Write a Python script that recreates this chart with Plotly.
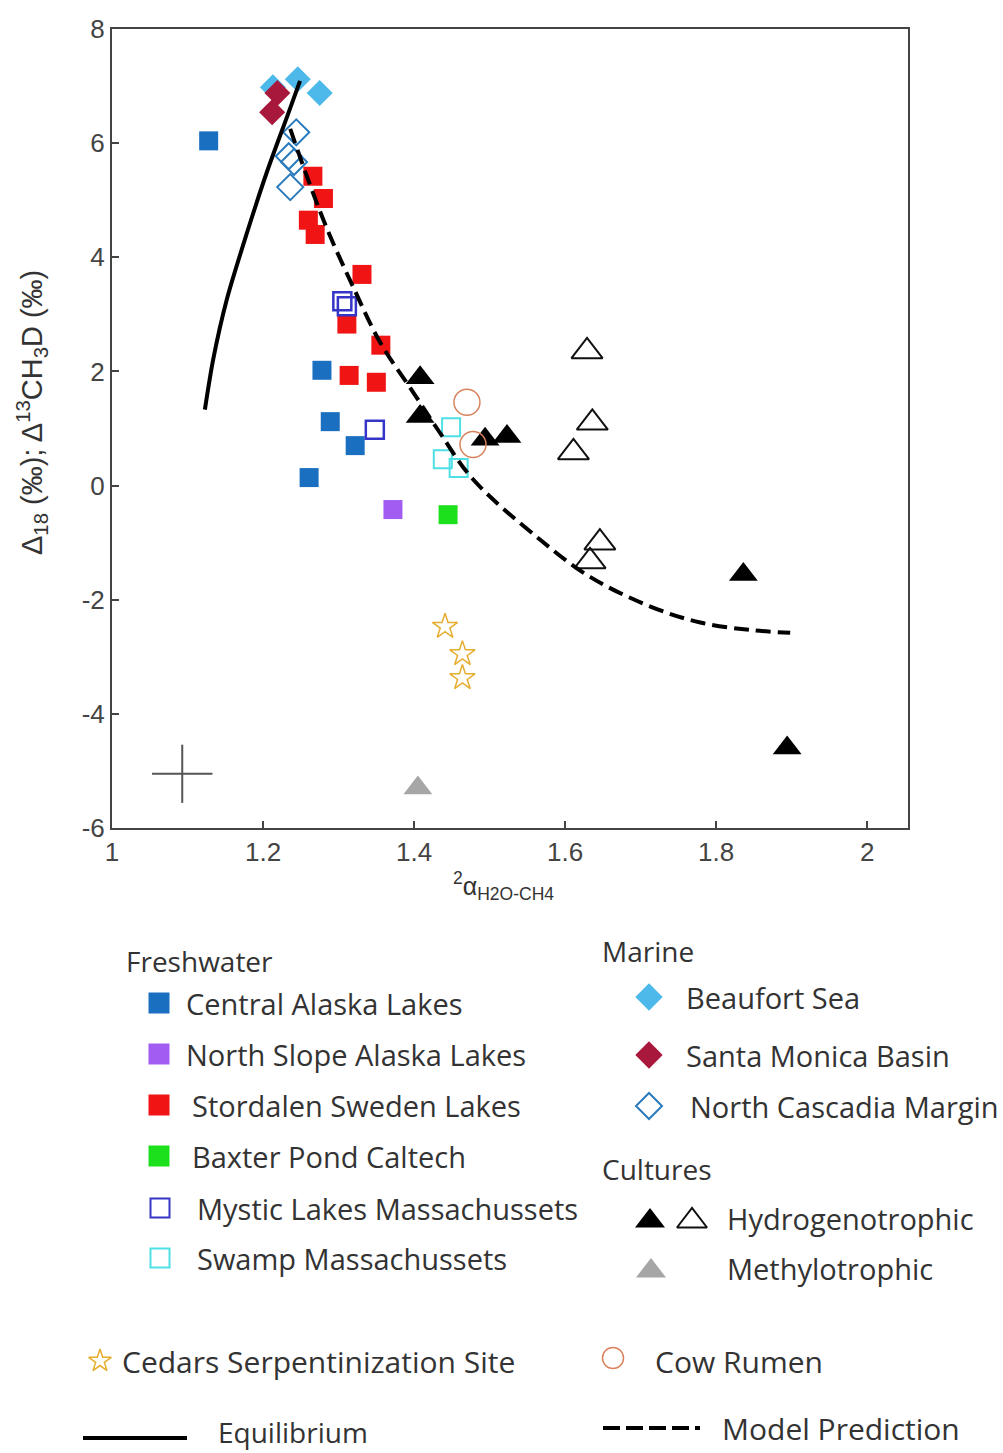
import plotly.graph_objects as go

# ---------------------------------------------------------------
# Sample groups: 2-alpha (H2O-CH4) vs clumped-isotope anomaly
# ---------------------------------------------------------------
central_alaska_x = [1.128, 1.278, 1.289, 1.322, 1.261]
central_alaska_y = [6.04, 2.02, 1.12, 0.70, 0.14]

north_slope_x = [1.372]
north_slope_y = [-0.42]

stordalen_x = [1.266, 1.280, 1.260, 1.269, 1.331, 1.311, 1.356, 1.314, 1.350]
stordalen_y = [5.42, 5.03, 4.65, 4.40, 3.70, 2.83, 2.46, 1.93, 1.81]

baxter_x = [1.445]
baxter_y = [-0.51]

mystic_x = [1.305, 1.311, 1.348]
mystic_y = [3.23, 3.14, 0.98]

swamp_x = [1.449, 1.438, 1.459]
swamp_y = [1.02, 0.46, 0.31]

beaufort_x = [1.213, 1.246, 1.275]
beaufort_y = [6.98, 7.12, 6.88]

santa_monica_x = [1.219, 1.212]
santa_monica_y = [6.88, 6.54]

cascadia_x = [1.244, 1.234, 1.241, 1.236]
cascadia_y = [6.19, 5.77, 5.67, 5.23]

hydro_filled_x = [1.408, 1.408, 1.494, 1.523, 1.836, 1.894]
hydro_filled_y = [1.89, 1.21, 0.81, 0.86, -1.56, -4.60]

hydro_open_x = [1.629, 1.636, 1.611, 1.646, 1.633]
hydro_open_y = [2.35, 1.10, 0.58, -1.00, -1.33]

methylo_x = [1.405]
methylo_y = [-5.30]

cedars_x = [1.441, 1.464, 1.464]
cedars_y = [-2.47, -2.95, -3.37]

cow_x = [1.470, 1.478]
cow_y = [1.46, 0.72]

# typical analytical uncertainty
err_x, err_y = [1.093], [-5.05]
err_dx, err_dy = 0.04, 0.51

# curves
equil_x = [1.123, 1.134, 1.152, 1.179, 1.205, 1.232, 1.249]
equil_y = [1.33, 2.21, 3.26, 4.44, 5.49, 6.47, 7.09]

model_x = [1.236, 1.258, 1.285, 1.319, 1.355, 1.399, 1.434, 1.478, 1.567,
           1.633, 1.713, 1.779, 1.845, 1.898]
model_y = [6.25, 5.42, 4.49, 3.49, 2.51, 1.63, 0.93, 0.11, -0.95,
           -1.60, -2.12, -2.40, -2.53, -2.58]

x_ticks = [1, 1.2, 1.4, 1.6, 1.8, 2]
x_tick_text = ["1", "1.2", "1.4", "1.6", "1.8", "2"]
y_ticks = [-6, -4, -2, 0, 2, 4, 6, 8]
y_tick_text = ["-6", "-4", "-2", "0", "2", "4", "6", "8"]

# ---------------------------------------------------------------
# Styling
# ---------------------------------------------------------------
C_CENTRAL = "#1b6fc0"
C_NSLOPE = "#a35cf2"
C_STORD = "#f01414"
C_BAXTER = "#1ce01c"
C_MYSTIC = "#3535c8"
C_SWAMP = "#4fe0e6"
C_BEAUF = "#4db8ea"
C_SMB = "#a8183c"
C_CASC = "#2a7bbd"
C_METHYL = "#a6a6a6"
C_CEDARS = "#e5ad2e"
C_COW = "#d9835e"
AXIS = "#444444"
TEXT = "#333333"

W, H = 1003, 1453
PL, PR, PT, PB = 112, 908, 29, 828


def fx(p):
    return p / W


def fy(p):
    return (H - p) / H


fig = go.Figure()


def pts(x, y, symbol, size, color, lw=0, xa="x", ya="y"):
    fig.add_trace(go.Scatter(
        x=x, y=y, mode="markers", xaxis=xa, yaxis=ya, showlegend=False,
        hoverinfo="skip",
        marker=dict(symbol=symbol, size=size, color=color,
                    line=dict(color=color, width=lw)),
    ))


# error cross
fig.add_trace(go.Scatter(
    x=err_x, y=err_y, mode="markers", showlegend=False, hoverinfo="skip",
    marker=dict(size=1, color="rgba(0,0,0,0)"),
    error_x=dict(type="constant", value=err_dx, width=0, thickness=2, color="#555555"),
    error_y=dict(type="constant", value=err_dy, width=0, thickness=2, color="#555555"),
))

pts(central_alaska_x, central_alaska_y, "square", 19, C_CENTRAL)
pts(north_slope_x, north_slope_y, "square", 19, C_NSLOPE)
pts(stordalen_x, stordalen_y, "square", 19, C_STORD)
pts(baxter_x, baxter_y, "square", 19, C_BAXTER)
pts(mystic_x, mystic_y, "square-open", 18, C_MYSTIC, 2.5)
pts(swamp_x, swamp_y, "square-open", 18, C_SWAMP, 2)
pts(beaufort_x, beaufort_y, "diamond", 20, C_BEAUF)
pts(santa_monica_x, santa_monica_y, "diamond", 20, C_SMB)
pts(cascadia_x, cascadia_y, "diamond-open", 20, C_CASC, 2)
pts(hydro_open_x, hydro_open_y, "triangle-up-open", 27, "#111111", 2)
pts(hydro_filled_x, hydro_filled_y, "triangle-up", 25, "#000000")
pts(methylo_x, methylo_y, "triangle-up", 25, C_METHYL)
pts(cedars_x, cedars_y, "star-open", 19, C_CEDARS, 1.5)
pts(cow_x, cow_y, "circle-open", 26, C_COW, 1.5)

fig.add_trace(go.Scatter(
    x=equil_x, y=equil_y, mode="lines", showlegend=False, hoverinfo="skip",
    line=dict(color="#000000", width=4, shape="spline", smoothing=0.8),
))
fig.add_trace(go.Scatter(
    x=model_x, y=model_y, mode="lines", showlegend=False, hoverinfo="skip",
    line=dict(color="#000000", width=4, shape="spline", dash="15px,7px"),
))

# ---------------------------------------------------------------
# Key below the axes (drawn on a pixel-scaled helper axis)
# ---------------------------------------------------------------
KEY_TOP = 900
KEY_FONT = "Open Sans"
headings = [("Freshwater", 124, 961), ("Marine", 600, 951), ("Cultures", 600, 1169)]

key_labels = ["Central Alaska Lakes", "North Slope Alaska Lakes", "Stordalen Sweden Lakes",
              "Baxter Pond Caltech", "Mystic Lakes Massachussets", "Swamp Massachussets",
              "Beaufort Sea", "Santa Monica Basin", "North Cascadia Margin",
              "Hydrogenotrophic", "Methylotrophic",
              "Cedars Serpentinization Site", "Cow Rumen",
              "Equilibrium", "Model Prediction"]

# (marker x, marker y, symbol, size, colour, line width, text x, text y, font size)
key_layout = [
    (159, 1003, "square", 21, C_CENTRAL, 0, 184, 1003, 29),
    (159, 1054, "square", 21, C_NSLOPE, 0, 184, 1054, 29),
    (159, 1105, "square", 21, C_STORD, 0, 190, 1105, 29),
    (159, 1156, "square", 21, C_BAXTER, 0, 190, 1156, 29),
    (160, 1208, "square-open", 19, C_MYSTIC, 2, 195, 1208, 29),
    (160, 1258, "square-open", 19, C_SWAMP, 2, 195, 1258, 29),
    (649, 997, "diamond", 21, C_BEAUF, 0, 684, 997, 29),
    (649, 1055, "diamond", 21, C_SMB, 0, 684, 1055, 29),
    (649, 1106, "diamond-open", 20, C_CASC, 2, 688, 1106, 29),
    (650, 1221, "triangle-up", 26, "#000000", 0, 725, 1218, 29),
    (651, 1271, "triangle-up", 26, C_METHYL, 0, 725, 1268, 29),
    (100, 1361, "star-open", 17, C_CEDARS, 1.5, 120, 1361, 30),
    (613, 1358, "circle-open", 21, C_COW, 1.5, 653, 1361, 30),
]

for lab, (mx, my, sym, sz, col, lw, tx, ty, fs) in zip(key_labels, key_layout):
    pts([mx], [my], sym, sz, col, lw, xa="x2", ya="y2")
    fig.add_annotation(x=tx, y=ty, xref="x2", yref="y2", text=lab, showarrow=False,
                       xanchor="left", yanchor="middle",
                       font=dict(family=KEY_FONT, size=fs, color=TEXT))

# second symbol for hydrogenotrophic (open triangle)
pts([692], [1221], "triangle-up-open", 26, "#111111", 2, xa="x2", ya="y2")

# line samples
fig.add_trace(go.Scatter(x=[83, 187], y=[1438, 1438], mode="lines", xaxis="x2", yaxis="y2",
                         showlegend=False, hoverinfo="skip",
                         line=dict(color="#000000", width=4)))
fig.add_annotation(x=216, y=1432, xref="x2", yref="y2", text=key_labels[13], showarrow=False,
                   xanchor="left", yanchor="middle",
                   font=dict(family=KEY_FONT, size=28, color=TEXT))
fig.add_trace(go.Scatter(x=[603, 700], y=[1428, 1428], mode="lines", xaxis="x2", yaxis="y2",
                         showlegend=False, hoverinfo="skip",
                         line=dict(color="#000000", width=4, dash="17px,6px")))
fig.add_annotation(x=720, y=1428, xref="x2", yref="y2", text=key_labels[14], showarrow=False,
                   xanchor="left", yanchor="middle",
                   font=dict(family=KEY_FONT, size=30, color=TEXT))

for txt, hx, hy in headings:
    fig.add_annotation(x=hx, y=hy, xref="x2", yref="y2", text=txt, showarrow=False,
                       xanchor="left", yanchor="middle",
                       font=dict(family=KEY_FONT, size=28, color=TEXT))

# axis titles
fig.add_annotation(x=fx(32), y=fy(413), xref="paper", yref="paper", textangle=-90,
                   text="Δ<sub>18</sub> (‰); Δ<sup>13</sup>CH<sub>3</sub>D (‰)",
                   showarrow=False, xanchor="center", yanchor="middle",
                   font=dict(family="Liberation Sans", size=29, color=TEXT))
fig.add_annotation(x=fx(503), y=fy(886), xref="paper", yref="paper",
                   text="<sup>2</sup>α<sub>H2O-CH4</sub>",
                   showarrow=False, xanchor="center", yanchor="middle",
                   font=dict(family="Liberation Sans", size=25, color=TEXT))

axis_common = dict(showline=True, mirror=True, linecolor=AXIS, linewidth=2,
                   ticks="inside", ticklen=7, tickwidth=2, tickcolor=AXIS,
                   showgrid=False, zeroline=False, automargin=False,
                   tickfont=dict(family="Liberation Sans", size=26, color="#444444"))

fig.update_layout(
    width=W, height=H,
    margin=dict(l=0, r=0, t=0, b=0, autoexpand=False),
    paper_bgcolor="white", plot_bgcolor="white",
    showlegend=False,
    xaxis=dict(domain=[fx(PL), fx(PR)], range=[1, 2.054], tickvals=x_ticks,
               ticktext=x_tick_text, anchor="y", **axis_common),
    yaxis=dict(domain=[fy(PB), fy(PT)], range=[-6, 8], tickvals=y_ticks,
               ticktext=y_tick_text, anchor="x", **axis_common),
    xaxis2=dict(domain=[0, 1], range=[0, W], visible=False, anchor="y2", automargin=False),
    yaxis2=dict(domain=[0, fy(KEY_TOP)], range=[H, KEY_TOP], visible=False, anchor="x2",
                automargin=False),
)

fig.write_html("out.html")
